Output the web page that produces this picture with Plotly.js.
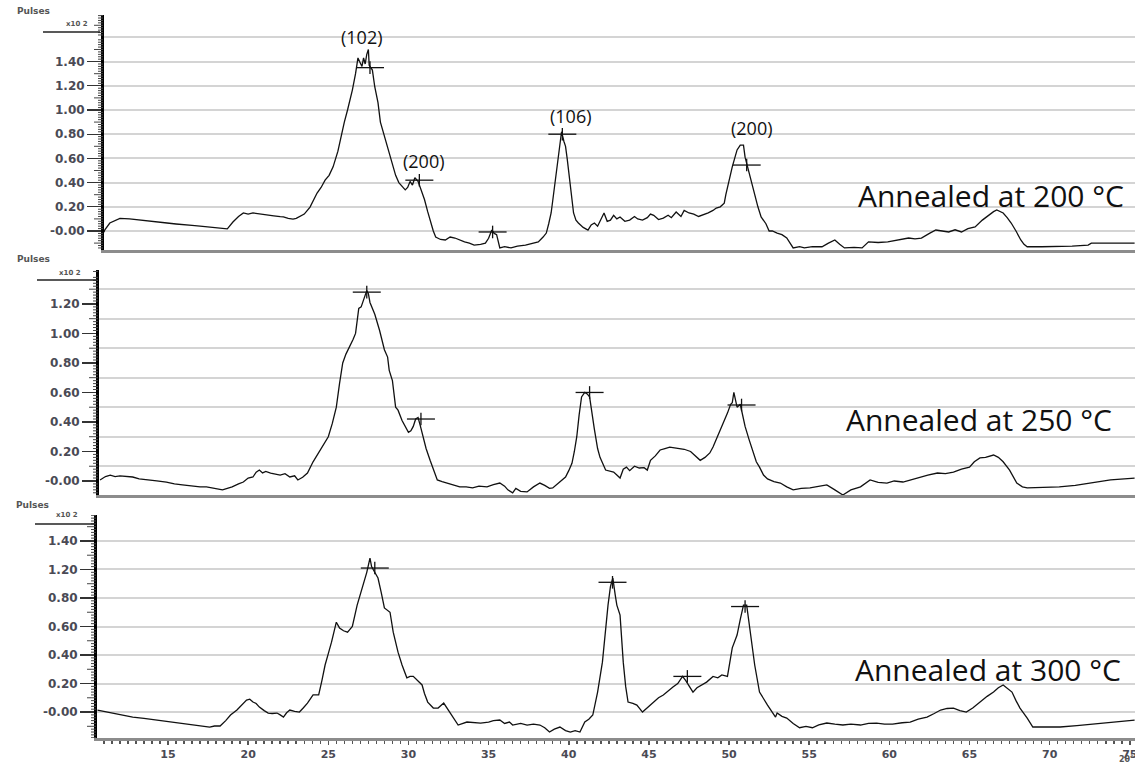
<!DOCTYPE html>
<html>
<head>
<meta charset="utf-8">
<script src="https://cdn.plot.ly/plotly-3.0.1.min.js"></script>
<style>html,body{margin:0;padding:0;background:#fff;}#chart{width:1135px;height:765px;}</style>
</head>
<body>
<div id="chart"></div>
<script>
// ---------- DATA (2θ in degrees, intensity in Pulses x10^2) ----------
const theta200 = [11.0,11.06,11.37,11.7,12.0,12.6,13.2,13.8,14.4,14.94,15.5,16.0,16.5,17.0,17.5,18.06,18.4,18.7,19.05,19.4,19.7,20.0,20.3,20.7,21.2,21.6,22.0,22.2,22.5,22.8,23.0,23.2,23.5,23.86,24.1,24.3,24.55,24.8,25.05,25.3,25.6,25.85,26.0,26.2,26.35,26.5,26.7,26.85,26.95,27.1,27.2,27.3,27.4,27.5,27.55,27.6,27.75,27.9,28.1,28.25,28.4,28.6,28.8,29.0,29.2,29.4,29.6,29.8,29.95,30.1,30.25,30.4,30.6,30.8,31.0,31.2,31.4,31.55,31.7,32.0,32.3,32.6,32.9,33.2,33.5,33.8,34.1,34.5,34.8,35.0,35.2,35.35,35.5,35.7,36.0,36.4,36.8,37.3,37.7,38.1,38.4,38.6,38.75,38.9,39.0,39.1,39.3,39.45,39.55,39.7,39.8,39.9,40.0,40.15,40.3,40.45,40.6,40.9,41.2,41.4,41.6,41.8,42.0,42.2,42.4,42.6,42.8,43.0,43.2,43.5,43.8,44.1,44.3,44.6,44.9,45.1,45.3,45.6,45.9,46.2,46.4,46.7,47.0,47.2,47.5,47.8,48.1,48.4,48.7,49.0,49.2,49.45,49.7,49.8,49.9,50.05,50.2,50.35,50.5,50.7,50.9,51.0,51.15,51.3,51.5,51.65,51.8,52.0,52.3,52.5,52.7,53.0,53.3,53.6,53.8,54.0,54.4,54.7,55.2,55.8,56.2,56.6,56.9,57.2,57.8,58.3,58.7,59.3,59.9,60.5,61.2,61.6,62.0,62.5,62.9,63.3,63.7,64.1,64.5,64.9,65.35,65.8,66.2,66.5,66.7,66.9,67.1,67.35,67.6,67.9,68.2,68.4,68.6,69.5,70.3,71.4,72.4,72.6,74.0,75.3];
const pulses200 = [-0.01,0.01,0.066,0.09,0.105,0.10,0.09,0.08,0.072,0.066,0.058,0.05,0.046,0.041,0.033,0.025,0.02,0.017,0.074,0.12,0.149,0.14,0.149,0.14,0.132,0.125,0.118,0.116,0.105,0.099,0.104,0.116,0.14,0.198,0.26,0.314,0.36,0.42,0.46,0.53,0.66,0.83,0.9,1.0,1.08,1.165,1.3,1.43,1.4,1.36,1.43,1.38,1.46,1.50,1.37,1.36,1.33,1.19,1.06,0.9,0.83,0.73,0.64,0.55,0.46,0.40,0.37,0.34,0.36,0.41,0.38,0.44,0.41,0.34,0.26,0.16,0.066,0.0,-0.05,-0.07,-0.074,-0.05,-0.058,-0.075,-0.09,-0.1,-0.116,-0.11,-0.10,-0.06,0.008,-0.02,-0.03,-0.14,-0.13,-0.14,-0.125,-0.116,-0.1,-0.09,-0.05,-0.017,0.06,0.149,0.25,0.36,0.55,0.72,0.82,0.74,0.70,0.6,0.48,0.3,0.149,0.09,0.066,0.03,0.008,0.05,0.066,0.04,0.1,0.149,0.08,0.09,0.13,0.1,0.116,0.08,0.09,0.12,0.1,0.09,0.11,0.14,0.13,0.095,0.107,0.13,0.11,0.157,0.12,0.17,0.149,0.14,0.12,0.132,0.15,0.17,0.19,0.2,0.23,0.3,0.36,0.45,0.53,0.6,0.67,0.71,0.71,0.61,0.53,0.45,0.34,0.26,0.2,0.116,0.06,0.0,0.0,-0.017,-0.03,-0.058,-0.1,-0.14,-0.13,-0.14,-0.13,-0.13,-0.1,-0.074,-0.11,-0.14,-0.135,-0.14,-0.09,-0.095,-0.09,-0.075,-0.058,-0.065,-0.058,-0.02,0.008,0.0,-0.008,0.01,-0.008,0.02,0.033,0.09,0.132,0.16,0.174,0.16,0.149,0.11,0.066,0.0,-0.074,-0.11,-0.13,-0.13,-0.13,-0.125,-0.116,-0.10,-0.10,-0.10];

const theta250 = [10.76,11.1,11.4,11.7,12.0,12.4,12.8,13.2,13.7,14.3,14.9,15.4,15.9,16.4,17.0,17.4,17.8,18.1,18.4,18.7,19.0,19.4,19.7,20.0,20.3,20.5,20.7,20.9,21.1,21.4,21.7,22.0,22.3,22.6,22.9,23.1,23.4,23.7,24.05,24.5,24.8,25.0,25.25,25.5,25.7,25.9,26.1,26.35,26.55,26.7,26.9,27.05,27.2,27.4,27.5,27.6,27.9,28.05,28.2,28.5,28.7,28.8,29.0,29.2,29.35,29.6,29.8,30.0,30.15,30.3,30.45,30.6,30.75,30.9,31.1,31.35,31.6,31.8,32.1,32.4,32.8,33.2,33.6,34.0,34.4,34.9,35.3,35.7,36.0,36.2,36.5,36.7,37.0,37.4,37.8,38.2,38.5,38.8,39.0,39.4,39.8,40.0,40.2,40.35,40.5,40.65,40.8,41.0,41.15,41.3,41.45,41.6,41.8,41.95,42.3,42.5,42.8,43.0,43.2,43.4,43.6,43.8,44.1,44.4,44.7,44.9,45.1,45.4,45.7,46.0,46.3,46.6,46.9,47.2,47.6,47.9,48.2,48.5,48.8,49.0,49.2,49.55,49.9,50.1,50.2,50.3,50.4,50.5,50.7,50.85,51.0,51.25,51.5,51.7,51.9,52.15,52.4,52.8,53.2,53.6,54.0,54.5,55.05,55.6,56.1,56.6,57.1,57.6,58.2,58.8,59.3,59.85,60.3,60.85,61.4,61.9,62.4,63.0,63.5,64.0,64.5,65.0,65.3,65.65,66.0,66.5,66.8,67.1,67.3,67.5,67.95,68.3,68.6,69.5,70.6,71.6,72.7,73.8,75.3];
const pulses250 = [0.007,0.03,0.04,0.03,0.034,0.03,0.027,0.015,0.007,0.0,-0.007,-0.02,-0.027,-0.035,-0.04,-0.04,-0.047,-0.055,-0.06,-0.05,-0.04,-0.02,-0.007,0.02,0.027,0.06,0.074,0.055,0.065,0.054,0.045,0.04,0.05,0.027,0.035,0.007,0.025,0.054,0.13,0.21,0.26,0.30,0.39,0.50,0.66,0.80,0.86,0.91,0.96,1.0,1.17,1.18,1.23,1.29,1.27,1.21,1.13,1.08,1.02,0.89,0.84,0.75,0.68,0.50,0.48,0.41,0.37,0.33,0.34,0.37,0.42,0.43,0.37,0.30,0.22,0.14,0.06,0.007,-0.005,-0.014,-0.025,-0.04,-0.04,-0.047,-0.035,-0.04,-0.025,-0.014,-0.035,-0.06,-0.08,-0.05,-0.07,-0.074,-0.04,-0.014,-0.03,-0.05,-0.047,-0.01,0.027,0.07,0.12,0.2,0.30,0.45,0.57,0.60,0.59,0.57,0.45,0.35,0.22,0.16,0.074,0.07,0.06,0.04,0.02,0.08,0.094,0.07,0.1,0.088,0.09,0.074,0.14,0.17,0.21,0.22,0.23,0.225,0.22,0.215,0.20,0.17,0.14,0.16,0.19,0.23,0.28,0.37,0.46,0.52,0.53,0.60,0.55,0.50,0.52,0.45,0.37,0.28,0.19,0.13,0.094,0.04,0.014,-0.005,-0.014,-0.04,-0.06,-0.05,-0.047,-0.035,-0.027,-0.06,-0.095,-0.06,-0.04,0.007,-0.01,-0.014,0.0,-0.007,0.01,0.027,0.04,0.054,0.05,0.06,0.08,0.094,0.13,0.156,0.16,0.176,0.16,0.13,0.1,0.074,-0.014,-0.04,-0.047,-0.045,-0.04,-0.03,-0.014,0.007,0.02];

const theta300 = [10.6,11.0,11.4,12.1,12.8,13.5,14.3,14.9,15.55,16.2,16.8,17.2,17.6,17.9,18.25,18.6,18.9,19.3,19.6,19.9,20.1,20.3,20.5,20.7,21.0,21.25,21.5,21.8,22.0,22.2,22.4,22.6,22.9,23.2,23.45,23.7,24.05,24.4,24.6,24.8,25.0,25.2,25.5,25.7,25.95,26.2,26.35,26.5,26.8,27.1,27.4,27.6,27.7,27.8,28.1,28.3,28.5,28.85,29.05,29.35,29.6,29.9,30.1,30.3,30.6,30.85,31.0,31.2,31.55,31.85,32.2,32.4,32.6,32.85,33.1,33.65,34.0,34.5,35.0,35.3,35.7,36.0,36.3,36.5,37.0,37.4,37.8,38.2,38.5,38.8,39.1,39.45,39.8,40.1,40.4,40.7,41.0,41.25,41.5,41.8,42.1,42.3,42.45,42.6,42.75,42.9,43.0,43.2,43.4,43.55,43.7,44.0,44.25,44.6,44.9,45.25,45.6,45.9,46.2,46.5,46.8,47.1,47.3,47.45,47.75,48.0,48.3,48.6,49.0,49.3,49.55,49.9,50.2,50.5,50.7,50.9,51.1,51.3,51.45,51.6,51.9,52.15,52.4,52.9,53.0,53.3,53.6,54.0,54.4,54.8,55.2,55.6,56.1,56.6,57.1,57.6,58.2,58.7,59.2,59.7,60.2,60.8,61.3,61.8,62.35,62.8,63.2,63.6,64.0,64.4,64.8,65.2,65.65,66.1,66.5,66.8,67.1,67.4,67.65,67.9,68.15,68.6,68.95,69.8,70.65,71.7,72.7,74.0,75.3];
const pulses300 = [0.014,0.005,-0.007,-0.02,-0.035,-0.045,-0.056,-0.065,-0.077,-0.085,-0.091,-0.1,-0.105,-0.098,-0.098,-0.06,-0.021,0.014,0.05,0.084,0.09,0.07,0.06,0.035,0.01,-0.007,-0.01,-0.007,-0.02,-0.035,-0.005,0.014,0.005,0.0,0.03,0.063,0.12,0.12,0.22,0.33,0.41,0.49,0.63,0.59,0.57,0.56,0.58,0.60,0.75,0.87,0.98,1.08,1.02,1.0,0.94,0.84,0.73,0.70,0.56,0.42,0.33,0.24,0.25,0.25,0.22,0.19,0.13,0.07,0.028,0.028,0.063,0.03,-0.007,-0.05,-0.091,-0.07,-0.075,-0.077,-0.07,-0.06,-0.056,-0.08,-0.07,-0.091,-0.08,-0.091,-0.085,-0.091,-0.11,-0.14,-0.12,-0.105,-0.13,-0.14,-0.13,-0.14,-0.07,-0.05,-0.021,0.14,0.35,0.6,0.75,0.88,0.94,0.82,0.75,0.68,0.35,0.18,0.07,0.06,0.049,0.0,0.03,0.07,0.1,0.12,0.15,0.175,0.2,0.25,0.22,0.19,0.14,0.17,0.19,0.21,0.25,0.24,0.26,0.25,0.45,0.54,0.65,0.75,0.75,0.59,0.45,0.33,0.14,0.09,0.049,-0.035,-0.007,-0.03,-0.042,-0.08,-0.11,-0.1,-0.11,-0.09,-0.077,-0.085,-0.091,-0.085,-0.091,-0.08,-0.077,-0.085,-0.084,-0.075,-0.07,-0.05,-0.035,-0.01,0.014,0.025,0.028,0.01,0.0,0.028,0.07,0.11,0.14,0.17,0.19,0.16,0.14,0.08,0.028,-0.042,-0.105,-0.105,-0.105,-0.095,-0.084,-0.07,-0.056];

// Peak markers (+) found by the diffractometer software
const peaks200Theta = [27.6, 30.68, 35.25, 39.6, 51.1];
const peaks200Val   = [1.35, 0.42, -0.008, 0.80, 0.545];
const peaks250Theta = [27.4, 30.78, 41.3, 50.78];
const peaks250Val   = [1.28, 0.42, 0.60, 0.515];
const peaks300Theta = [27.9, 42.73, 47.4, 51.0];
const peaks300Val   = [1.01, 0.91, 0.25, 0.74];

// Miller-index labels on the 200 °C pattern
const hklLabels = ['(102)', '(200)', '(106)', '(200)'];
const panelLabels = ['Annealed at 200 °C', 'Annealed at 250 °C', 'Annealed at 300 °C'];

// Tick labels
const yTickVals200 = [0, 0.2, 0.4, 0.6, 0.8, 1.0, 1.2, 1.4];
const yTickText200 = ['-0.00', '0.20', '0.40', '0.60', '0.80', '1.00', '1.20', '1.40'];
const yTickVals250 = [0, 0.2, 0.4, 0.6, 0.8, 1.0, 1.2];
const yTickText250 = ['-0.00', '0.20', '0.40', '0.60', '0.80', '1.00', '1.20'];
const yTickVals300 = [0, 0.2, 0.4, 0.6, 0.8, 1.0, 1.2];
const yTickText300 = ['-0.00', '0.20', '0.40', '0.60', '0.80', '1.20', '1.40'];
const xTickVals = [15, 20, 25, 30, 35, 40, 45, 50, 55, 60, 65, 70, 75];

// ---------- LAYOUT ----------
const W = 1135, H = 765;
const fy = py => 1 - py / H;
const fx = px => px / W;

const lineStyle = {color: '#111', width: 1.3};
const traces = [
  {x: theta200, y: pulses200, xaxis: 'x', yaxis: 'y', mode: 'lines', line: lineStyle, hoverinfo: 'skip'},
  {x: theta250, y: pulses250, xaxis: 'x2', yaxis: 'y2', mode: 'lines', line: lineStyle, hoverinfo: 'skip'},
  {x: theta300, y: pulses300, xaxis: 'x3', yaxis: 'y3', mode: 'lines', line: lineStyle, hoverinfo: 'skip'}
];
// empty traces so the grid overlay axes get drawn
[['x','y4'],['x2','y5'],['x3','y6']].forEach(p =>
  traces.unshift({x: [], y: [], xaxis: p[0], yaxis: p[1], mode: 'lines', hoverinfo: 'skip'}));

function peakTraces(xs, ys, xa, ya, hsize) {
  return [
    {x: xs, y: ys, xaxis: xa, yaxis: ya, mode: 'markers', hoverinfo: 'skip',
     marker: {symbol: 'line-ew', size: hsize, line: {color: '#111', width: 1.3}}},
    {x: xs, y: ys, xaxis: xa, yaxis: ya, mode: 'markers', hoverinfo: 'skip',
     marker: {symbol: 'line-ns', size: 9, line: {color: '#111', width: 1.3}}}
  ];
}
traces.push(...peakTraces(peaks200Theta, peaks200Val, 'x', 'y', 20));
traces.push(...peakTraces(peaks250Theta, peaks250Val, 'x2', 'y2', 20));
traces.push(...peakTraces(peaks300Theta, peaks300Val, 'x3', 'y3', 20));

const tickFont = {family: 'DejaVu Sans', size: 12, color: '#4a4a55', weight: 'bold'};
const xTickFont = {family: 'DejaVu Sans', size: 11, color: '#4a4a55', weight: 'bold'};
const gridColor = '#d4d4d4';

function xAx(leftPx, anchor, labels) {
  const pxPerUnit = 16.03, x15 = 168;
  const a = {
    domain: [fx(leftPx), 1],
    range: [15 - (x15 - leftPx) / pxPerUnit, 15 + (W - x15) / pxPerUnit],
    anchor: anchor, showline: true, linecolor: '#8c8c8c', linewidth: 2.5,
    showgrid: false, zeroline: false, fixedrange: true
  };
  if (labels) {
    Object.assign(a, {tickmode: 'array', tickvals: xTickVals, ticks: 'outside', ticklen: 4, tickcolor: '#555',
      tickwidth: 1.5, tickfont: xTickFont, ticklabeloverflow: 'allow',
      minor: {tickmode: 'linear', tick0: 0, dtick: 0.5, ticks: 'outside', ticklen: 3, tickcolor: '#555', tickwidth: 1.5, showgrid: false}});
  } else {
    Object.assign(a, {ticks: '', showticklabels: false});
  }
  return a;
}
function yAx(topPx, botPx, range, anchor, tv, tt) {
  return {
    domain: [fy(botPx), fy(topPx)], range: range, anchor: anchor,
    showline: true, linecolor: '#000', linewidth: 3, zeroline: false, fixedrange: true,
    tickmode: 'array', tickvals: tv, ticktext: tt, ticks: 'outside', ticklen: 14, tickwidth: 1.2, tickcolor: '#333',
    tickfont: tickFont, showgrid: false
  };
}
function gridAx(base, range, anchor, tick0) {
  return {overlaying: base, anchor: anchor, side: 'left', range: range, tickmode: 'linear', tick0: tick0, dtick: 0.2,
    showgrid: true, gridcolor: gridColor, gridwidth: 2, ticks: '',
    showticklabels: false, showline: false, zeroline: false, fixedrange: true};
}

const r200 = [-0.157, 1.785], r250 = [-0.095, 1.43], r300 = [-0.182, 1.382];

// dense minor tick marks along each y axis (axis decoration)
const shapes = [];
function addMinorTicks(yref, range, axisPx) {
  const start = Math.ceil(range[0] / 0.02), end = Math.floor(range[1] / 0.02);
  for (let k = start; k <= end; k++) {
    if (k % 10 === 0) continue;              // major ticks drawn by the axis
    const len = (k % 5 === 0) ? 9 : 5;
    shapes.push({type: 'line', xref: 'paper', yref: yref, x0: fx(axisPx - 1 - len), x1: fx(axisPx - 1),
      y0: k * 0.02, y1: k * 0.02, line: {color: '#444', width: 1}, layer: 'above'});
  }
}
addMinorTicks('y', r200, 104);
addMinorTicks('y2', r250, 99);
addMinorTicks('y3', r300, 97);

const annFont = {family: 'Open Sans', size: 18, color: '#111'};
const bigFont = {family: 'Open Sans', size: 30, color: '#111'};
const smallFont = {family: 'DejaVu Sans', size: 9, color: '#555', weight: 'bold'};
const tinyFont = {family: 'DejaVu Sans', size: 7, color: '#555', weight: 'bold'};
const hklPos = [[362, 37], [424, 161], [571, 116], [752, 128]];
const labelPos = [[991, 195], [979, 419], [988, 669]];
const pulsesPos = [[33, 11], [33, 259], [32, 505]];
const x10Pos = [[77, 24], [70, 273], [67, 515]];
const x10Line = [[43, 100, 32], [37, 97, 280], [35, 95, 524]];

const annotations = [];
hklLabels.forEach((t, i) => annotations.push({text: t, xref: 'paper', yref: 'paper', x: fx(hklPos[i][0]), y: fy(hklPos[i][1]),
  xanchor: 'center', yanchor: 'middle', showarrow: false, font: annFont}));
panelLabels.forEach((t, i) => annotations.push({text: t, xref: 'paper', yref: 'paper', x: fx(labelPos[i][0]), y: fy(labelPos[i][1]),
  xanchor: 'center', yanchor: 'middle', showarrow: false, font: bigFont}));
pulsesPos.forEach(p => annotations.push({text: 'Pulses', xref: 'paper', yref: 'paper', x: fx(p[0]), y: fy(p[1]),
  xanchor: 'center', yanchor: 'middle', showarrow: false, font: smallFont}));
x10Pos.forEach(p => annotations.push({text: 'x10 2', xref: 'paper', yref: 'paper', x: fx(p[0]), y: fy(p[1]),
  xanchor: 'center', yanchor: 'middle', showarrow: false, font: tinyFont}));
annotations.push({text: '2θ°', xref: 'paper', yref: 'paper', x: 1, y: 0, xanchor: 'right', yanchor: 'bottom',
  showarrow: false, font: {family: 'DejaVu Sans', size: 8, color: '#555', weight: 'bold'}, borderpad: 0});

x10Line.forEach(l => shapes.push({type: 'line', xref: 'paper', yref: 'paper', x0: fx(l[0]), x1: fx(l[1]), y0: fy(l[2]), y1: fy(l[2]),
  line: {color: '#222', width: 1.5}}));

const layout = {
  width: W, height: H, autosize: false,
  margin: {l: 0, r: 0, t: 0, b: 0, pad: 0},
  paper_bgcolor: '#fff', plot_bgcolor: '#fff', showlegend: false,
  xaxis: xAx(104, 'y', false),
  xaxis2: xAx(99, 'y2', false),
  xaxis3: xAx(97, 'y3', true),
  yaxis: yAx(15, 250, r200, 'x', yTickVals200, yTickText200),
  yaxis2: yAx(270, 495, r250, 'x2', yTickVals250, yTickText250),
  yaxis3: yAx(515, 738, r300, 'x3', yTickVals300, yTickText300),
  yaxis4: gridAx('y', r200, 'x', 0),
  yaxis5: gridAx('y2', r250, 'x2', 0.1),
  yaxis6: Object.assign(gridAx('y3', r300, 'x3', 0), {tickmode: 'array', tickvals: yTickVals300}),
  annotations: annotations,
  shapes: shapes
};

Plotly.newPlot('chart', traces, layout, {staticPlot: true, displayModeBar: false});
</script>
</body>
</html>
